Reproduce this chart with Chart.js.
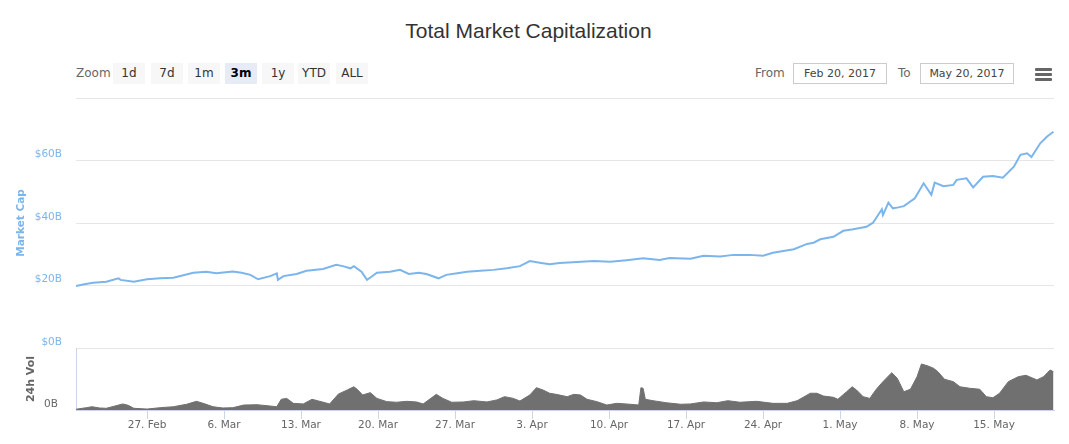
<!DOCTYPE html>
<html>
<head>
<meta charset="utf-8">
<script src="https://cdn.jsdelivr.net/npm/chart.js@4/dist/chart.umd.min.js"></script>
<style>
  body{margin:0;background:#fff;width:1069px;height:444px;overflow:hidden;position:relative;font-family:"DejaVu Sans",Verdana,sans-serif;}
  .abs{position:absolute;}
  #title{left:0;top:19px;width:1057px;text-align:center;font:21px "Liberation Sans",Arial,sans-serif;line-height:24px;color:#333;}
  .lbl{top:63px;height:21px;line-height:21px;font-size:12px;color:#666;}
  .btn{top:63px;width:32px;height:21px;line-height:21px;text-align:center;font-size:12px;color:#333;background:#f7f7f7;}
  .btn.sel{background:#e6ebf5;color:#000;font-weight:bold;}
  .box{top:63px;width:94px;height:21px;box-sizing:border-box;border:1px solid #ccc;line-height:19px;text-align:center;font-size:11px;color:#444;}
  .bar{left:1035px;width:17px;height:3px;background:#666;border-radius:1px;}
  canvas{position:absolute;left:0;}
</style>
</head>
<body>
<div id="title" class="abs">Total Market Capitalization</div>
<div class="abs lbl" style="left:76px">Zoom</div>
<div id="buttons"></div>
<div class="abs lbl" style="left:755px">From</div>
<div class="abs box" style="left:793px">Feb 20, 2017</div>
<div class="abs lbl" style="left:898px">To</div>
<div class="abs box" style="left:920px">May 20, 2017</div>
<div class="abs bar" style="top:68px"></div>
<div class="abs bar" style="top:73px"></div>
<div class="abs bar" style="top:78px"></div>
<canvas id="capChart" width="1069" height="360" style="top:0"></canvas>
<canvas id="volChart" width="1069" height="114" style="top:330px"></canvas>
<script>
// x values are days since 20 Feb 2017
const zoomButtons=["1d","7d","1m","3m","1y","YTD","ALL"];
const buttonLeft=[113,151,188,225,262,298,336];
const selectedButton="3m";

const tickDays=[7,14,21,28,35,42,49,56,63,70,77,84];
const tickLabels=["27. Feb","6. Mar","13. Mar","20. Mar","27. Mar","3. Apr","10. Apr","17. Apr","24. Apr","1. May","8. May","15. May"];

// market cap, billions USD
const capDays=[0.55,1.3,2.1,3.3,4.4,4.6,5.8,7.0,8.2,9.4,10.3,11.2,12.4,13.3,14.8,15.6,16.4,17.1,18.2,18.8,18.9,19.4,20.6,21.5,23.0,24.2,24.8,25.5,25.8,26.5,27.0,27.4,27.9,29.1,30.0,30.8,31.7,32.4,33.5,34.2,35.2,36.1,37.3,38.5,39.7,40.9,41.8,42.7,43.6,44.5,46.1,47.6,49.1,50.6,52.1,53.6,54.5,56.4,57.6,59.1,60.3,61.8,63.0,63.9,65.8,67.0,67.6,68.2,69.4,70.3,71.2,72.4,73.0,73.8,73.9,74.4,74.8,75.3,75.8,76.8,77.6,77.9,78.3,78.6,79.4,80.3,80.6,81.5,82.1,83.0,83.9,84.8,85.8,86.4,87.0,87.4,88.2,88.8,89.4];
const capValues=[19.8,20.4,20.9,21.2,22.3,21.8,21.2,22.0,22.3,22.5,23.3,24.1,24.4,23.9,24.5,24.1,23.4,22.0,23.0,23.9,21.8,23.0,23.7,24.7,25.3,26.6,26.2,25.5,26.2,24.4,21.8,22.8,24.1,24.4,25.0,23.7,24.1,23.7,22.3,23.4,23.9,24.4,24.7,25.0,25.5,26.2,27.8,27.3,26.8,27.2,27.5,27.8,27.6,28.1,28.7,28.2,28.8,28.6,29.5,29.3,29.8,29.8,29.5,30.5,31.6,33.3,33.7,34.8,35.6,37.5,38.0,38.8,40.1,44.4,42.6,46.5,44.7,45.0,45.4,47.9,52.7,51.1,49.0,52.9,51.8,52.2,53.8,54.3,51.4,54.8,55.0,54.5,58.0,61.8,62.3,61.1,65.5,67.6,69.2];

// 24h volume, billions USD
const volDays=[0.55,1.5,2.0,2.7,3.3,4.1,4.8,5.3,5.8,7.0,8.2,9.4,10.6,11.5,12.1,13.0,13.9,14.8,15.8,17.0,17.9,18.8,19.2,19.7,20.3,21.2,22.0,22.6,23.6,24.4,25.2,25.8,26.1,26.6,27.3,27.9,28.8,29.7,30.6,31.5,32.1,33.3,33.9,34.7,35.8,36.7,37.9,38.8,39.5,40.3,40.9,41.8,42.4,43.0,43.6,44.2,45.2,45.8,46.4,47.0,47.9,48.8,49.7,50.9,51.7,51.9,52.1,52.3,53.0,54.2,55.5,56.4,57.6,58.8,59.8,60.9,62.4,63.9,65.2,66.1,67.3,67.9,68.5,69.4,69.8,70.6,71.1,71.5,72.1,72.7,73.3,73.9,74.7,75.2,75.8,76.4,77.0,77.4,78.0,78.5,78.9,79.5,80.3,80.9,81.8,82.7,83.3,83.9,84.5,85.3,86.2,86.9,87.9,88.5,89.1,89.4];
const volValues=[0.05,0.15,0.21,0.13,0.11,0.26,0.39,0.30,0.11,0.06,0.15,0.21,0.37,0.56,0.43,0.21,0.13,0.15,0.32,0.34,0.28,0.21,0.69,0.75,0.43,0.39,0.69,0.58,0.39,1.03,1.29,1.50,1.34,0.97,1.12,0.75,0.54,0.50,0.56,0.52,0.39,1.01,0.75,0.50,0.52,0.60,0.52,0.65,0.86,0.75,0.58,0.97,1.44,1.29,1.08,1.01,0.86,1.01,0.97,0.69,0.54,0.32,0.43,0.37,0.32,1.44,1.40,0.69,0.60,0.47,0.37,0.39,0.52,0.47,0.60,0.50,0.56,0.43,0.43,0.60,1.08,1.08,0.90,0.82,0.69,1.18,1.50,1.29,0.86,0.75,1.34,1.83,2.41,2.05,1.18,1.34,2.15,2.97,2.84,2.69,2.47,1.98,1.83,1.50,1.40,1.34,0.86,0.79,1.08,1.83,2.15,2.24,1.94,2.15,2.58,2.47];

const xMin=0.545, xMax=89.45;
const labelFont={family:"DejaVu Sans",size:10.5};

const btnHost=document.getElementById("buttons");
btnHost.innerHTML=zoomButtons.map((b,i)=>
  `<div class="abs btn${b===selectedButton?" sel":""}" style="left:${buttonLeft[i]}px">${b}</div>`
).join("");

const pts=(xs,ys)=>xs.map((x,i)=>({x,y:ys[i]}));

// label gap to the plot is made with invisible tick marks, so it does not pad the plot height
new Chart(document.getElementById("capChart"),{
  type:"line",
  data:{datasets:[{data:pts(capDays,capValues),borderColor:"#7cb5ec",borderWidth:2,pointRadius:0,tension:0,fill:false}]},
  options:{
    responsive:false,animation:false,
    layout:{padding:{left:10,right:15,top:98,bottom:12}},
    plugins:{legend:{display:false},tooltip:{enabled:false}},
    scales:{
      x:{type:"linear",min:xMin,max:xMax,display:false},
      y:{
        min:0,max:80,
        afterFit(s){s.width=66;},
        ticks:{stepSize:20,color:"#7cb5ec",font:labelFont,padding:0,labelOffset:-6,
          callback:v=>v===80?"":"$"+v+"B"},
        grid:{color:"#e6e6e6",drawTicks:true,tickLength:14,tickColor:"rgba(0,0,0,0)"},
        border:{display:false},
        title:{display:true,text:"Market Cap",color:"#7cb5ec",font:{family:"DejaVu Sans",size:10.5,weight:"bold"},padding:{top:5,bottom:0}}
      }
    }
  }
});

new Chart(document.getElementById("volChart"),{
  type:"line",
  data:{datasets:[{data:pts(volDays,volValues),borderColor:"#707070",backgroundColor:"#707070",borderWidth:1,pointRadius:0,tension:0,fill:"origin"}]},
  options:{
    responsive:false,animation:false,
    layout:{padding:{left:21,right:15,top:18,bottom:0}},
    plugins:{legend:{display:false},tooltip:{enabled:false}},
    scales:{
      x:{
        type:"linear",min:xMin,max:xMax,
        afterFit(s){s.height=34;},
        afterBuildTicks(s){s.ticks=tickDays.map(v=>({value:v}));},
        ticks:{color:"#666",font:labelFont,padding:0,maxRotation:0,autoSkip:false,
          callback:v=>tickLabels[tickDays.indexOf(v)]},
        grid:{drawOnChartArea:false,drawTicks:true,tickLength:9,tickColor:"#ccd6eb"},
        border:{color:"#ccd6eb"}
      },
      y:{
        min:0,max:4,
        afterFit(s){s.width=55;},
        ticks:{stepSize:4,color:"#666",font:labelFont,padding:0,labelOffset:-6,
          callback:v=>v===0?"0B":""},
        grid:{color:"#e6e6e6",drawTicks:true,tickLength:18,tickColor:"rgba(0,0,0,0)"},
        border:{color:"#ccd6eb"},
        title:{display:true,text:"24h Vol",color:"#666",font:{family:"DejaVu Sans",size:11,weight:"bold"},padding:{top:4,bottom:0}}
      }
    }
  }
});
</script>
</body>
</html>
